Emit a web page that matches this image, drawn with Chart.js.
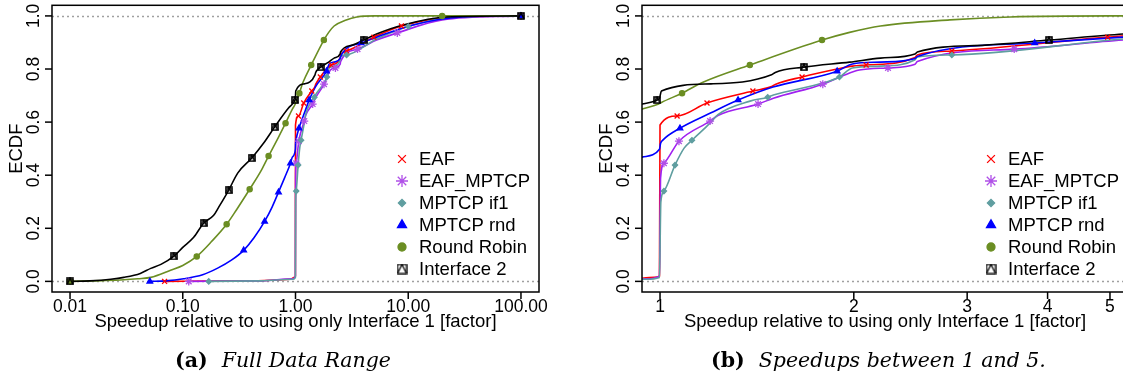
<!DOCTYPE html>
<html>
<head>
<meta charset="utf-8">
<script src="https://cdn.jsdelivr.net/npm/chart.js@4.4.1/dist/chart.umd.min.js"></script>
<style>
  body { margin: 0; width: 1123px; height: 381px; overflow: hidden; background: #fff; position: relative; }
  canvas { position: absolute; top: 0; }
  #panelA { left: 0; }
  #panelB { left: 561px; }
  .cap { position: absolute; top: 348px; font-family: "DejaVu Serif", serif; font-size: 20.5px; white-space: nowrap; color: #000; }
  .cap b { font-weight: bold; margin-right: 14px; }
  .cap i { font-style: italic; }
</style>
</head>
<body>
<canvas id="panelA" width="561" height="381"></canvas>
<canvas id="panelB" width="580" height="381"></canvas>
<div class="cap" id="capA" style="left:175px"><b>(a)</b><i>Full Data Range</i></div>
<div class="cap" id="capB" style="left:711px"><b>(b)</b><i>Speedups between 1 and 5.</i></div>
<script>
// series labels (legend order)
var seriesNames = ['EAF', 'EAF_MPTCP', 'MPTCP if1', 'MPTCP rnd', 'Round Robin', 'Interface 2'];

// ECDF curves (x = speedup, y = ECDF)
var eafX = [0.069, 0.3, 0.9, 0.98, 0.998, 1.0, 1.063, 1.183, 1.394, 1.49, 1.51, 1.662, 1.884, 1.99, 2.09, 2.49, 2.51, 2.84, 4.96, 8.7, 25, 100];
var eafY = [0, 0.002, 0.008, 0.015, 0.02, 0.589, 0.623, 0.672, 0.717, 0.734, 0.742, 0.770, 0.800, 0.811, 0.815, 0.843, 0.853, 0.868, 0.920, 0.962, 0.995, 1];

var eafMptcpX = [0.113, 0.5, 0.95, 0.998, 1.002, 1.014, 1.07, 1.196, 1.23, 1.42, 1.5, 1.79, 1.92, 2.04, 2.26, 2.49, 2.51, 3.55, 5.24, 8, 20, 100];
var eafMptcpY = [0, 0.002, 0.01, 0.02, 0.39, 0.445, 0.528, 0.604, 0.625, 0.668, 0.69, 0.743, 0.774, 0.796, 0.804, 0.818, 0.828, 0.875, 0.909, 0.936, 0.985, 1];

var if1X = [0.17, 0.5, 0.95, 0.998, 1.003, 1.014, 1.055, 1.09, 1.121, 1.196, 1.23, 1.38, 1.47, 1.5, 1.79, 1.9, 1.99, 2.2, 2.49, 2.51, 2.84, 5.24, 10, 25, 100];
var if1Y = [0, 0.002, 0.008, 0.015, 0.3, 0.34, 0.438, 0.502, 0.532, 0.596, 0.628, 0.679, 0.694, 0.702, 0.747, 0.77, 0.804, 0.811, 0.835, 0.845, 0.853, 0.913, 0.96, 0.995, 1];

var rndX = [0.051, 0.07, 0.102, 0.15, 0.204, 0.27, 0.347, 0.43, 0.532, 0.62, 0.707, 0.8, 0.903, 0.938, 0.998, 1.002, 1.01, 1.074, 1.2, 1.322, 1.498, 1.884, 1.99, 2.2, 2.49, 2.51, 3.82, 5.24, 11, 30, 100];
var rndY = [0, 0.002, 0.01, 0.025, 0.05, 0.08, 0.117, 0.165, 0.226, 0.28, 0.336, 0.39, 0.445, 0.468, 0.498, 0.52, 0.532, 0.577, 0.635, 0.683, 0.732, 0.792, 0.819, 0.826, 0.84, 0.847, 0.898, 0.92, 0.966, 0.996, 1];

var rrX = [0.01, 0.02, 0.03, 0.04, 0.052, 0.078, 0.1, 0.133, 0.18, 0.245, 0.3, 0.392, 0.5, 0.577, 0.7, 0.816, 0.938, 0.995, 1.005, 1.082, 1.166, 1.379, 1.785, 1.97, 2.2, 2.82, 3.5, 5, 100];
var rrY = [0, 0.003, 0.006, 0.01, 0.015, 0.042, 0.06, 0.094, 0.15, 0.215, 0.27, 0.347, 0.42, 0.472, 0.54, 0.596, 0.649, 0.668, 0.674, 0.709, 0.75, 0.815, 0.909, 0.938, 0.962, 0.985, 0.996, 1, 1];

var if2X = [0.01, 0.015, 0.023, 0.03, 0.042, 0.052, 0.064, 0.083, 0.1, 0.125, 0.153, 0.188, 0.208, 0.255, 0.307, 0.408, 0.52, 0.652, 0.867, 0.938, 0.99, 0.998, 1.005, 1.2, 1.49, 1.51, 1.673, 1.97, 2.2, 2.49, 2.51, 3.2, 4.02, 5.24, 9, 22, 100];
var if2Y = [0, 0.002, 0.008, 0.015, 0.03, 0.049, 0.064, 0.094, 0.128, 0.166, 0.219, 0.249, 0.279, 0.343, 0.408, 0.464, 0.52, 0.581, 0.653, 0.668, 0.683, 0.69, 0.717, 0.744, 0.778, 0.787, 0.807, 0.826, 0.841, 0.857, 0.864, 0.89, 0.909, 0.932, 0.966, 0.996, 1];

// plotted symbols along each curve
var eafMarkX = [0.069, 1.063, 1.183, 1.394, 1.662, 2.09, 2.84, 4.96, 8.7, 100];
var eafMarkY = [0, 0.623, 0.672, 0.717, 0.770, 0.815, 0.868, 0.92, 0.962, 1];
var eafMptcpMarkX = [0.113, 1.014, 1.07, 1.196, 1.42, 1.79, 2.26, 3.55, 8, 100];
var eafMptcpMarkY = [0, 0.445, 0.528, 0.604, 0.668, 0.743, 0.804, 0.875, 0.936, 1];
var if1MarkX = [0.17, 1.014, 1.055, 1.121, 1.47, 1.9, 2.84, 10, 100];
var if1MarkY = [0, 0.34, 0.438, 0.532, 0.694, 0.77, 0.853, 0.96, 1];
var rndMarkX = [0.051, 0.347, 0.532, 0.707, 0.903, 1.074, 1.322, 1.884, 3.82, 100];
var rndMarkY = [0, 0.117, 0.226, 0.336, 0.445, 0.577, 0.683, 0.792, 0.898, 1];
var rrMarkX = [0.01, 0.133, 0.245, 0.392, 0.577, 0.816, 1.082, 1.379, 1.785, 20];
var rrMarkY = [0, 0.094, 0.215, 0.347, 0.472, 0.596, 0.709, 0.815, 0.909, 1];
var if2MarkX = [0.01, 0.083, 0.153, 0.255, 0.408, 0.652, 0.99, 1.673, 4.02, 100];
var if2MarkY = [0, 0.094, 0.219, 0.343, 0.464, 0.581, 0.683, 0.807, 0.909, 1];

// axis ticks
var yTicks = [0, 0.2, 0.4, 0.6, 0.8, 1.0];
var yTickLabels = ['0.0', '0.2', '0.4', '0.6', '0.8', '1.0'];
var xTicksA = [0.01, 0.1, 1, 10, 100];
var xTickLabelsA = ['0.01', '0.10', '1.00', '10.00', '100.00'];
var xTicksB = [1, 2, 3, 4, 5];
var xTickLabelsB = ['1', '2', '3', '4', '5'];

var xTitle = 'Speedup relative to using only Interface 1 [factor]';
var yTitle = 'ECDF';

var TICK_FONT = '17.5px "Liberation Sans", Arial, sans-serif';
var LABEL_FONT = '18.5px "Liberation Sans", Arial, sans-serif';

// square with a triangle inside (R pch 14)
function boxTri(size, lw) {
    var c = document.createElement('canvas');
    c.width = c.height = size + 2;
    var g = c.getContext('2d');
    g.strokeStyle = '#000';
    g.lineWidth = lw;
    g.strokeRect(1, 1, size, size);
    g.beginPath();
    g.moveTo(1, size + 1);
    g.lineTo(size / 2 + 1, 1);
    g.lineTo(size + 1, size + 1);
    g.stroke();
    return c;
}

var curves = [
    { x: eafX, y: eafY, mx: eafMarkX, my: eafMarkY, color: '#FF0000', mcolor: '#FF0000', style: 'crossRot', r: 3.5, lr: 5.5, fill: false },
    { x: eafMptcpX, y: eafMptcpY, mx: eafMptcpMarkX, my: eafMptcpMarkY, color: '#A020F0', mcolor: '#B050E8', style: 'star', r: 4, lr: 6, fill: false },
    { x: if1X, y: if1Y, mx: if1MarkX, my: if1MarkY, color: '#5F9EA0', mcolor: '#5F9EA0', style: 'rectRot', r: 2.6, lr: 3.6, fill: true },
    { x: rndX, y: rndY, mx: rndMarkX, my: rndMarkY, color: '#0000FF', mcolor: '#0000FF', style: 'triangle', r: 3.2, lr: 5.2, fill: true },
    { x: rrX, y: rrY, mx: rrMarkX, my: rrMarkY, color: '#6B8E23', mcolor: '#6B8E23', style: 'circle', r: 2.6, lr: 4, fill: true },
    { x: if2X, y: if2Y, mx: if2MarkX, my: if2MarkY, color: '#000000', mcolor: '#000000', style: boxTri(6, 1.6), r: 4, lr: 4, fill: false, legendStyle: boxTri(9, 1.3) }
];

var rFrame = {
    id: 'rFrame',
    beforeDatasetsDraw: function (chart) {
        var ctx = chart.ctx, a = chart.chartArea, y = chart.scales.y;
        ctx.save();
        ctx.strokeStyle = '#a0a0a0';
        ctx.lineWidth = 1.3;
        ctx.setLineDash([2, 3]);
        [0, 1].forEach(function (v) {
            var py = Math.round(y.getPixelForValue(v)) + 0.5;
            ctx.beginPath();
            ctx.moveTo(a.left, py);
            ctx.lineTo(a.right, py);
            ctx.stroke();
        });
        ctx.restore();
    },
    afterDraw: function (chart, args, opts) {
        var ctx = chart.ctx, a = chart.chartArea, x = chart.scales.x, y = chart.scales.y;
        ctx.save();
        ctx.strokeStyle = '#000';
        ctx.fillStyle = '#000';
        ctx.lineWidth = 1.5;
        ctx.strokeRect(a.left, a.top, a.right - a.left, a.bottom - a.top);

        // y axis
        ctx.font = TICK_FONT;
        yTicks.forEach(function (v, i) {
            var py = y.getPixelForValue(v);
            ctx.beginPath();
            ctx.moveTo(a.left, py);
            ctx.lineTo(a.left - 7, py);
            ctx.stroke();
            ctx.save();
            ctx.translate(a.left - 13, py);
            ctx.rotate(-Math.PI / 2);
            ctx.textAlign = 'center';
            ctx.fillText(yTickLabels[i], 0, 0);
            ctx.restore();
        });
        ctx.font = LABEL_FONT;
        ctx.save();
        ctx.translate(a.left - 30, (a.top + a.bottom) / 2);
        ctx.rotate(-Math.PI / 2);
        ctx.textAlign = 'center';
        ctx.fillText(yTitle, 0, 0);
        ctx.restore();

        // x axis
        ctx.textAlign = 'center';
        ctx.font = TICK_FONT;
        opts.ticks.forEach(function (v, i) {
            var px = x.getPixelForValue(v);
            ctx.beginPath();
            ctx.moveTo(px, a.bottom);
            ctx.lineTo(px, a.bottom + 7);
            ctx.stroke();
            ctx.fillText(opts.labels[i], px, a.bottom + 20);
        });
        ctx.font = LABEL_FONT;
        ctx.fillText(xTitle, (a.left + a.right) / 2, a.bottom + 35);

        // legend
        ctx.textAlign = 'left';
        ctx.textBaseline = 'middle';
        curves.forEach(function (c, i) {
            var ly = 159 + i * 22;
            var sx = a.right - 137;
            ctx.strokeStyle = c.mcolor;
            ctx.fillStyle = c.mcolor;
            ctx.lineWidth = 1.3;
            Chart.helpers.drawPoint(ctx, { pointStyle: c.legendStyle || c.style, radius: c.lr, rotation: 0, borderWidth: 1.3 }, sx, ly);
            ctx.fillStyle = '#000';
            ctx.fillText(seriesNames[i], a.right - 120, ly + 1);
        });
        ctx.restore();
    }
};

function makePanel(id, xMin, xMax, ticks, labels, padLeft, padRight) {
    var datasets = [];
    curves.forEach(function (c, i) {
        datasets.push({
            label: seriesNames[i],
            data: c.x.map(function (v, k) { return { x: v, y: c.y[k] }; }),
            borderColor: c.color,
            borderWidth: 1.6,
            pointRadius: 0,
            fill: false,
            cubicInterpolationMode: 'monotone',
            order: 20 - i
        });
        datasets.push({
            label: seriesNames[i] + ' marks',
            data: c.mx.map(function (v, k) { return { x: v, y: c.my[k] }; }),
            showLine: false,
            pointStyle: c.style,
            pointRadius: c.r,
            pointBorderWidth: 1.3,
            pointBorderColor: c.mcolor,
            pointBackgroundColor: c.fill ? c.mcolor : 'rgba(0,0,0,0)',
            order: 10 - i
        });
    });
    return new Chart(document.getElementById(id), {
        type: 'line',
        data: { datasets: datasets },
        options: {
            responsive: false,
            animation: false,
            layout: { padding: { left: padLeft, right: padRight, top: 5, bottom: 89 } },
            scales: {
                x: { type: 'logarithmic', min: xMin, max: xMax, display: false },
                y: { type: 'linear', min: -0.04, max: 1.04, display: false }
            },
            plugins: {
                legend: { display: false },
                tooltip: { enabled: false },
                rFrame: { ticks: ticks, labels: labels }
            }
        },
        plugins: [rFrame]
    });
}

makePanel('panelA', Math.pow(10, -2.16), Math.pow(10, 2.16), xTicksA, xTickLabelsA, 52, 22);
makePanel('panelB', Math.pow(10, -0.028), Math.pow(10, Math.log10(5) + 0.028), xTicksB, xTickLabelsB, 81, 13);
</script>
</body>
</html>
